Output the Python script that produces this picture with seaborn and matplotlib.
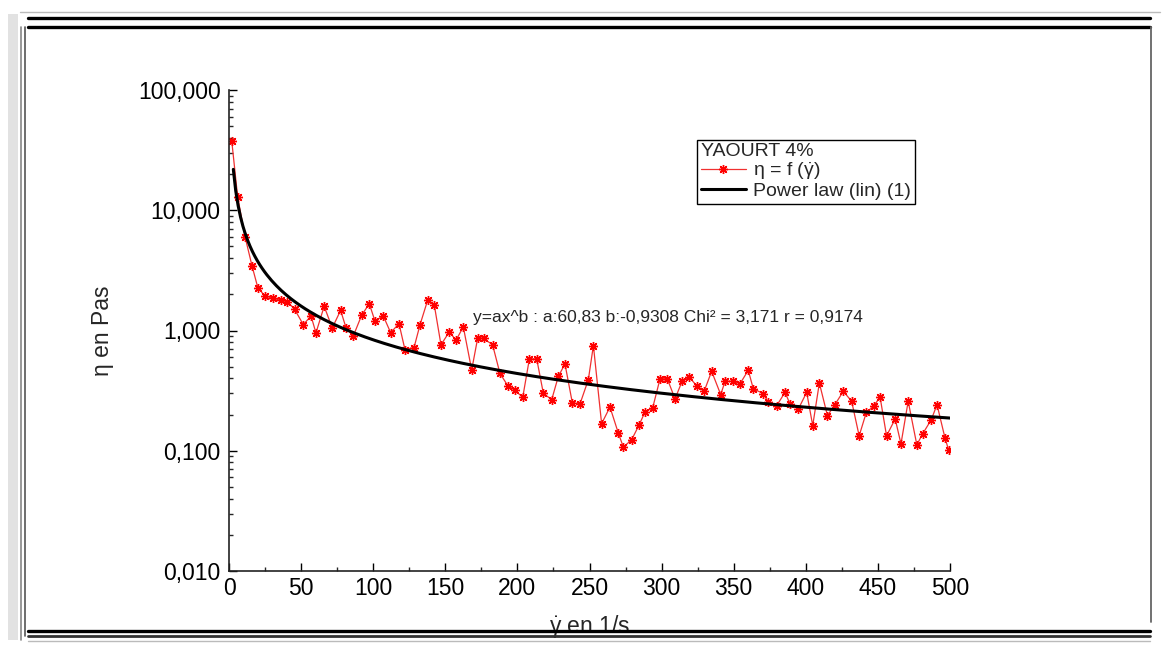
import numpy as np
import matplotlib
matplotlib.use("Agg")
import matplotlib.pyplot as plt
from matplotlib.lines import Line2D
from matplotlib.patches import Rectangle
from matplotlib.ticker import FuncFormatter, MultipleLocator, LogLocator, NullFormatter
import seaborn as sns

# --- data (shear rate in 1/s, viscosity in Pa.s) ---
shear_rate = [1.9, 6.0, 11.1, 16.0, 20.0, 25.0, 30.7, 35.8, 40.5, 45.5,
              51.5, 56.9, 60.3, 66.0, 71.6, 77.4, 81.2, 86.2, 92.0, 97.3,
              101.2, 107.0, 112.1, 117.9, 122.0, 128.3, 132.5, 137.8, 142.4, 147.0,
              152.8, 157.4, 162.5, 168.3, 172.5, 176.5, 182.8, 187.9, 193.3, 198.3,
              203.7, 208.3, 213.4, 218.0, 223.8, 228.4, 233.0, 238.1, 243.4, 249.2,
              252.7, 258.4, 264.2, 270.0, 273.5, 279.3, 284.3, 288.5, 293.8, 298.9,
              304.0, 309.3, 314.4, 319.2, 324.3, 329.5, 334.7, 341.0, 344.0, 349.7,
              354.4, 360.1, 363.6, 370.5, 374.0, 379.8, 385.6, 389.0, 394.8, 400.6,
              404.8, 409.4, 415.0, 420.2, 426.0, 431.8, 437.0, 442.0, 447.0, 451.5,
              456.0, 462.0, 466.0, 471.0, 477.0, 481.0, 487.0, 491.0, 496.5, 499.0]
viscosity = [37.8, 12.9, 6.04, 3.43, 2.27, 1.93, 1.86, 1.78, 1.74, 1.50,
             1.12, 1.32, 0.955, 1.59, 1.05, 1.47, 1.05, 0.90, 1.34, 1.67,
             1.20, 1.32, 0.96, 1.14, 0.695, 0.72, 1.12, 1.79, 1.62, 0.76,
             0.975, 0.83, 1.07, 0.47, 0.87, 0.86, 0.76, 0.44, 0.348, 0.318,
             0.278, 0.58, 0.58, 0.30, 0.266, 0.416, 0.527, 0.25, 0.245, 0.39,
             0.75, 0.168, 0.231, 0.14, 0.107, 0.124, 0.163, 0.21, 0.227, 0.396,
             0.396, 0.27, 0.383, 0.408, 0.348, 0.312, 0.458, 0.293, 0.378, 0.378,
             0.361, 0.467, 0.327, 0.299, 0.253, 0.237, 0.306, 0.246, 0.222, 0.306,
             0.162, 0.366, 0.196, 0.242, 0.312, 0.258, 0.133, 0.209, 0.234, 0.28,
             0.133, 0.184, 0.114, 0.258, 0.112, 0.138, 0.181, 0.242, 0.128, 0.102]

# power law fit printed on the chart
fit_a = 60.83
fit_b = -0.9308
fit_range = [3, 500]

x_ticks = [0, 50, 100, 150, 200, 250, 300, 350, 400, 450, 500]
y_ticks = [0.01, 0.1, 1, 10, 100]

sns.set_style("ticks")
plt.rcParams['font.family'] = ['Liberation Sans', 'DejaVu Sans']
plt.rcParams['mathtext.fontset'] = 'custom'
plt.rcParams['mathtext.rm'] = 'Liberation Sans'
plt.rcParams['mathtext.it'] = 'Liberation Sans'

W, H = 1167, 646
fig = plt.figure(figsize=(W / 100, H / 100), dpi=100)
fig.patch.set_facecolor('white')
ax = fig.add_axes([229 / W, 1 - 571 / H, 721 / W, 481 / H])

# measured curve
sns.lineplot(x=shear_rate, y=viscosity, ax=ax, color='#f03030', linewidth=0.9,
             marker=(8, 2, 0), markersize=6.5, markeredgewidth=1.0,
             markeredgecolor='#ff0000', label='η = f ($\\dot{\\mathrm{\\gamma}}$)')

# power law curve
fit_x = np.linspace(fit_range[0], fit_range[1], 300)
fit_y = fit_a * fit_x ** fit_b
sns.lineplot(x=fit_x, y=fit_y, ax=ax, color='black', linewidth=2.2,
             label='Power law (lin) (1)')

ax.set_yscale('log')
ax.set_xlim(0, 500)
ax.set_ylim(0.01, 100)
ax.set_xticks(x_ticks)
ax.set_yticks(y_ticks)
ax.xaxis.set_minor_locator(MultipleLocator(25))
ax.yaxis.set_minor_locator(LogLocator(base=10, subs=np.arange(2, 10)))
ax.yaxis.set_minor_formatter(NullFormatter())
ax.yaxis.set_major_formatter(FuncFormatter(lambda v, p: f"{v:.3f}".replace('.', ',')))

ax.tick_params(which='major', direction='in', length=6, width=1, labelsize=16.5,
               colors='black', pad=4)
ax.tick_params(which='minor', direction='in', length=3, width=1)
ax.tick_params(axis='y', which='major', pad=6)

sns.despine(ax=ax)
for s in ['left', 'bottom']:
    ax.spines[s].set_linewidth(1.2)
    ax.spines[s].set_color('#222222')

ax.set_xlabel('$\\dot{\\mathrm{\\gamma}}$ en 1/s', fontsize=16.5)
ax.set_ylabel('η en Pas', fontsize=16.5)
ax.xaxis.set_label_coords(0.5, -0.087)
ax.yaxis.set_label_coords(-0.16, 0.5)

ax.text(169, 1.28, 'y=ax^b : a:60,83 b:-0,9308 Chi² = 3,171 r = 0,9174',
        fontsize=12.5, va='center', ha='left')

leg = ax.legend(title='YAOURT 4%', loc='upper left', bbox_to_anchor=(0.649, 0.897),
                fontsize=14, title_fontsize=14, frameon=True, fancybox=False,
                edgecolor='black', framealpha=1, borderpad=0.2, labelspacing=0.0,
                handlelength=2.3, handletextpad=0.4, borderaxespad=0,
                alignment='left')
leg.get_frame().set_linewidth(1.0)

# window frame around the chart
def hline(y, x0, x1, lw, color):
    fig.add_artist(Line2D([x0 / W, x1 / W], [1 - y / H, 1 - y / H], lw=lw, color=color))

def vline(x, y0, y1, lw, color):
    fig.add_artist(Line2D([x / W, x / W], [1 - y0 / H, 1 - y1 / H], lw=lw, color=color))

fig.add_artist(Rectangle((8 / W, 1 - 640 / H), 10 / W, 626 / H, color='#e2e2e2', lw=0))
hline(12, 20, 1160, 1.0, '#bbbbbb')
hline(17.5, 28, 1150, 2.4, 'black')
hline(27, 28, 1150, 2.4, 'black')
hline(630.5, 28, 1150, 2.4, 'black')
hline(636, 28, 1150, 2.0, '#333333')
hline(641, 28, 1150, 1.0, '#bbbbbb')
vline(21, 27, 640, 1.2, '#888888')
vline(25, 27, 636, 1.2, '#555555')
vline(1150.5, 27, 622, 1.3, '#666666')

plt.savefig('out.png', dpi=100)
